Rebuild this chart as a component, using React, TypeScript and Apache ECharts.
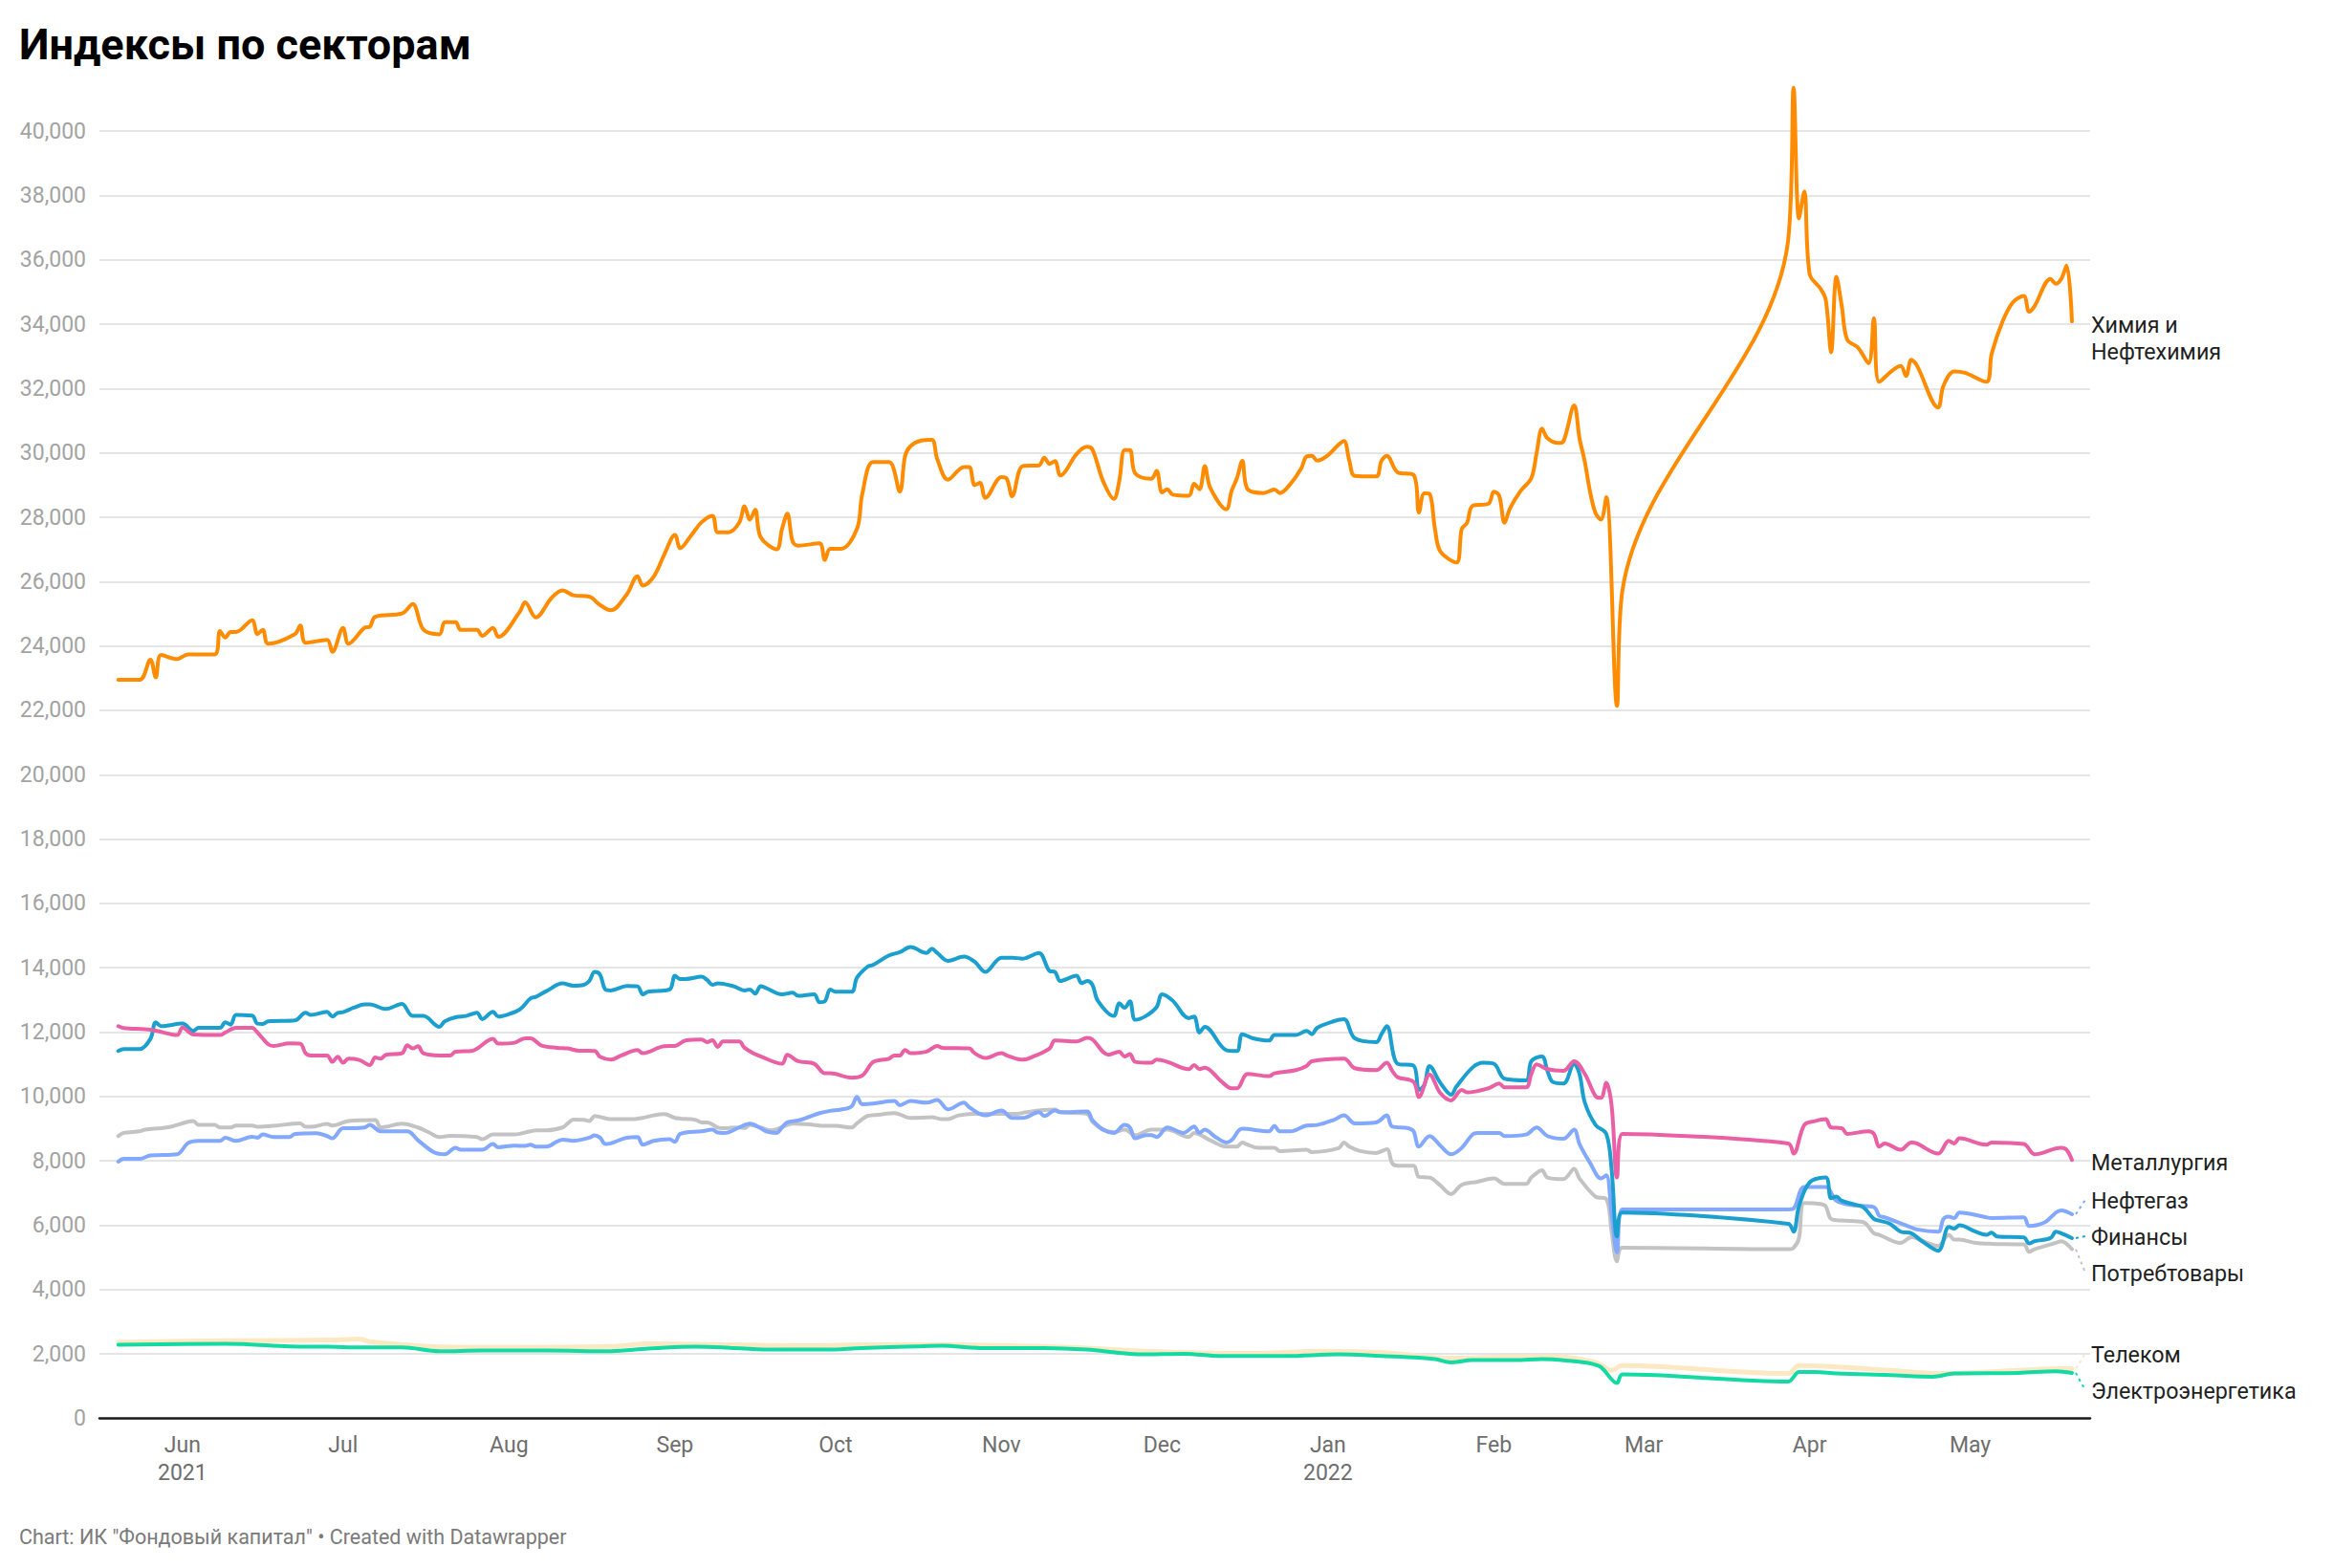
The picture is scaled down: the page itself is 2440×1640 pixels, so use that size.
import React, { useEffect, useRef } from "react";
import * as echarts from "echarts";

// x values are day offsets counted from 1 June 2021 (day 0); y values are index points
const DAY_MS = 86400000;

const chem: [number, number][] = [
  [-12, 22950], [-8, 22950], [-6, 23575], [-5, 23030], [-4, 23720], [-1, 23595], [1, 23740], [6, 23740],
  [7, 24465], [8, 24265], [9, 24435], [10, 24435], [13, 24800], [14, 24370], [15, 24505], [16, 24070],
  [21, 24370], [22, 24635], [23, 24100], [27, 24190], [28, 23820], [30, 24565], [31, 24070], [34, 24565],
  [35, 24600], [36, 24910], [41, 25010], [43, 25305], [45, 24515], [48, 24365], [49, 24740], [51, 24740],
  [52, 24500], [55, 24500], [56, 24315], [58, 24565], [59, 24285], [63, 25060], [64, 25355], [66, 24890],
  [69, 25505], [71, 25730], [73, 25575], [76, 25535], [78, 25275], [80, 25110], [83, 25605], [85, 26170],
  [86, 25880], [88, 26150], [90, 26840], [92, 27455], [93, 27040], [95, 27430], [97, 27850], [99, 28050],
  [100, 27535], [102, 27535], [104, 27830], [105, 28345], [106, 27930], [107, 28230], [108, 27385], [111, 27010],
  [112, 27635], [113, 28110], [114, 27240], [115, 27120], [119, 27190], [120, 26675], [121, 27020], [123, 27020],
  [126, 27635], [127, 28725], [129, 29715], [132, 29715], [134, 28800], [135, 29910], [136, 30210], [138, 30385],
  [140, 30410], [141, 29815], [143, 29170], [146, 29565], [147, 29565], [148, 29000], [149, 29070], [150, 28605],
  [153, 29250], [154, 29200], [155, 28655], [157, 29595], [160, 29615], [161, 29850], [162, 29660], [163, 29750],
  [164, 29300], [165, 29440], [167, 29960], [169, 30190], [170, 30110], [172, 29120], [174, 28575], [175, 29120],
  [176, 30090], [177, 30090], [178, 29365], [181, 29200], [182, 29440], [183, 28775], [184, 28870], [185, 28705],
  [188, 28670], [189, 29040], [190, 28870], [191, 29595], [192, 28920], [195, 28250], [196, 28820], [197, 29220],
  [198, 29755], [199, 28870], [202, 28755], [204, 28865], [205, 28755], [207, 29040], [209, 29515], [210, 29890],
  [211, 29910], [212, 29760], [214, 29930], [216, 30260], [217, 30375], [218, 29760], [219, 29290], [223, 29270],
  [224, 29760], [225, 29910], [227, 29400], [230, 29320], [231, 28150], [232, 28745], [233, 28725], [234, 27635],
  [235, 26940], [238, 26595], [239, 27635], [240, 27830], [241, 28355], [244, 28425], [245, 28800], [246, 28670],
  [247, 27830], [248, 28275], [250, 28820], [252, 29220], [253, 30010], [254, 30755], [255, 30460], [257, 30310],
  [258, 30360], [260, 31475], [261, 30460], [262, 29715], [263, 28770], [264, 28130], [265, 27930], [266, 28625],
  [268, 22140], [269, 25705], [300, 36645], [301, 41350], [302, 37290], [303, 38130], [304, 35555], [306, 35110],
  [307, 34765], [308, 33130], [309, 35475], [310, 34565], [311, 33525], [313, 33280], [315, 32785], [316, 34190],
  [317, 32210], [321, 32705], [322, 32390], [323, 32900], [324, 32730], [328, 31415], [329, 32090], [331, 32535],
  [333, 32490], [337, 32210], [338, 33080], [340, 34070], [342, 34685], [344, 34880], [345, 34390], [346, 34560],
  [349, 35410], [350, 35260], [351, 35410], [352, 35825], [353, 34090],
];

const metal: [number, number][] = [
  [-12, 12186], [-11, 12127], [-7, 12087], [-5, 12047], [-1, 11909], [0, 12146], [2, 11929], [7, 11909],
  [8, 11988], [10, 12136], [13, 12136], [14, 11988], [16, 11621], [17, 11572], [20, 11651], [22, 11641],
  [23, 11344], [24, 11275], [27, 11275], [28, 11077], [29, 11235], [30, 11047], [31, 11176], [33, 11136],
  [35, 10978], [36, 11215], [37, 11176], [38, 11295], [41, 11344], [42, 11592], [43, 11493], [44, 11562],
  [45, 11344], [48, 11275], [50, 11275], [51, 11394], [54, 11414], [58, 11790], [59, 11641], [62, 11671],
  [64, 11810], [65, 11810], [67, 11592], [70, 11513], [72, 11493], [74, 11424], [77, 11414], [78, 11235],
  [80, 11146], [82, 11275], [85, 11443], [86, 11344], [90, 11562], [92, 11572], [94, 11740], [97, 11770],
  [98, 11691], [99, 11750], [100, 11542], [101, 11710], [104, 11715], [105, 11513], [107, 11315], [108, 11245],
  [112, 11017], [113, 11295], [115, 11097], [118, 11017], [120, 10720], [121, 10720], [125, 10582], [127, 10651],
  [129, 11067], [131, 11146], [132, 11176], [133, 11275], [134, 11275], [135, 11443], [136, 11344], [139, 11394],
  [141, 11572], [142, 11513], [147, 11493], [148, 11344], [150, 11196], [153, 11344], [154, 11275], [157, 11146],
  [159, 11245], [162, 11493], [163, 11740], [167, 11711], [169, 11820], [170, 11770], [173, 11295], [175, 11394],
  [176, 11245], [177, 11315], [178, 11077], [181, 11047], [182, 11146], [184, 11077], [188, 10849], [189, 10978],
  [190, 10849], [191, 10898], [194, 10483], [196, 10255], [197, 10255], [199, 10701], [203, 10631], [204, 10720],
  [208, 10819], [210, 10948], [211, 11097], [217, 11176], [219, 10879], [223, 10819], [225, 11047], [226, 10800],
  [227, 10601], [230, 10453], [231, 9987], [233, 10681], [235, 10106], [237, 9879], [239, 10205], [240, 10126],
  [244, 10255], [246, 10403], [247, 10285], [251, 10285], [252, 10701], [253, 10998], [255, 10849], [258, 10800],
  [260, 11097], [262, 10701], [264, 10007], [265, 9958], [266, 10423], [267, 9710], [268, 7482], [269, 8839],
  [300, 8542], [301, 8225], [303, 9116], [305, 9235], [307, 9294], [308, 9037], [310, 9017], [311, 8839],
  [315, 8918], [316, 8839], [317, 8443], [318, 8542], [321, 8344], [323, 8572], [324, 8542], [328, 8225],
  [330, 8622], [331, 8542], [332, 8700], [337, 8502], [338, 8572], [344, 8522], [346, 8205], [347, 8225],
  [351, 8403], [352, 8344], [353, 8027],
];

const neft: [number, number][] = [
  [-12, 7977], [-11, 8066], [-8, 8066], [-6, 8165], [-1, 8205], [1, 8552], [3, 8621], [7, 8621],
  [8, 8720], [10, 8621], [13, 8750], [14, 8720], [15, 8819], [17, 8740], [20, 8740], [21, 8839],
  [25, 8859], [27, 8770], [28, 8700], [30, 9017], [32, 9017], [34, 9037], [35, 9116], [37, 8918],
  [42, 8918], [44, 8641], [47, 8264], [49, 8205], [51, 8403], [52, 8344], [56, 8344], [58, 8522],
  [59, 8423], [62, 8473], [64, 8463], [65, 8502], [66, 8443], [68, 8443], [70, 8601], [71, 8661],
  [73, 8621], [76, 8720], [77, 8790], [78, 8720], [79, 8522], [80, 8542], [83, 8720], [85, 8740],
  [86, 8502], [88, 8621], [91, 8671], [92, 8592], [93, 8839], [97, 8918], [99, 8968], [100, 8880],
  [101, 8869], [102, 8888], [104, 9037], [106, 9156], [108, 9017], [109, 8918], [111, 8869], [112, 9037],
  [113, 9196], [115, 9255], [117, 9364], [119, 9483], [121, 9553], [123, 9592], [125, 9691], [126, 9988],
  [127, 9760], [129, 9780], [133, 9859], [134, 9730], [136, 9859], [139, 9809], [141, 9889], [143, 9600],
  [146, 9809], [147, 9661], [150, 9413], [153, 9562], [155, 9334], [157, 9334], [160, 9512], [161, 9394],
  [163, 9562], [164, 9512], [169, 9532], [170, 9265], [172, 8968], [174, 8869], [176, 9116], [177, 9037],
  [178, 8700], [180, 8799], [181, 8799], [182, 8740], [184, 9037], [187, 8869], [189, 9067], [190, 8869],
  [191, 8968], [193, 8740], [195, 8572], [196, 8641], [198, 8997], [203, 8918], [204, 9087], [205, 8918],
  [207, 8918], [210, 9097], [212, 9116], [215, 9265], [217, 9413], [219, 9166], [223, 9196], [225, 9413],
  [226, 9067], [229, 9017], [230, 8918], [231, 8443], [233, 8770], [235, 8473], [237, 8205], [239, 8403],
  [241, 8819], [242, 8869], [246, 8869], [247, 8770], [251, 8819], [253, 9037], [255, 8770], [258, 8690],
  [260, 8968], [261, 8522], [263, 7928], [265, 7452], [266, 7551], [267, 6343], [268, 5155], [269, 6492],
  [300, 6492], [301, 6520], [303, 7185], [307, 7185], [309, 6759], [312, 6620], [316, 6561], [317, 6294],
  [318, 6244], [322, 5997], [324, 5868], [328, 5799], [329, 6195], [330, 6264], [331, 6224], [332, 6393],
  [337, 6244], [338, 6224], [344, 6244], [345, 5977], [348, 6096], [350, 6393], [351, 6462], [353, 6343],
];

const fin: [number, number][] = [
  [-12, 11414], [-11, 11473], [-8, 11473], [-6, 11790], [-5, 12305], [-4, 12186], [0, 12265], [2, 12037],
  [3, 12136], [7, 12136], [8, 12305], [9, 12235], [10, 12533], [13, 12513], [14, 12265], [15, 12255],
  [16, 12335], [21, 12364], [23, 12602], [24, 12533], [27, 12632], [28, 12483], [29, 12602], [30, 12622],
  [32, 12760], [34, 12860], [35, 12860], [38, 12720], [40, 12830], [41, 12879], [43, 12503], [45, 12503],
  [48, 12166], [49, 12335], [51, 12463], [53, 12503], [55, 12602], [56, 12404], [58, 12632], [59, 12483],
  [61, 12562], [63, 12701], [65, 13047], [66, 13097], [68, 13275], [71, 13513], [73, 13444], [75, 13473],
  [76, 13592], [77, 13870], [78, 13790], [79, 13325], [80, 13295], [83, 13434], [85, 13424], [86, 13176],
  [87, 13255], [91, 13325], [92, 13751], [93, 13652], [94, 13652], [97, 13721], [98, 13622], [99, 13473],
  [100, 13513], [103, 13424], [105, 13295], [106, 13325], [107, 13196], [108, 13424], [109, 13374], [112, 13176],
  [114, 13226], [115, 13127], [118, 13176], [119, 12929], [120, 12958], [121, 13325], [122, 13255], [125, 13255],
  [126, 13691], [128, 14038], [129, 14087], [132, 14384], [134, 14483], [136, 14642], [139, 14463], [140, 14592],
  [141, 14463], [143, 14216], [146, 14345], [148, 14186], [150, 13870], [153, 14315], [155, 14315], [157, 14285],
  [160, 14463], [162, 13899], [163, 13870], [164, 13592], [167, 13751], [168, 13523], [169, 13592], [170, 13473],
  [171, 12978], [174, 12503], [175, 12899], [176, 12760], [177, 12958], [178, 12384], [180, 12503], [182, 12780],
  [183, 13176], [185, 12978], [188, 12434], [189, 12483], [190, 11988], [191, 12166], [195, 11443], [197, 11414],
  [198, 11938], [200, 11810], [203, 11740], [204, 11909], [208, 11909], [210, 12037], [211, 11938], [212, 12136],
  [215, 12335], [217, 12404], [219, 11810], [223, 11691], [224, 11938], [225, 12186], [227, 11017], [230, 10958],
  [231, 10205], [232, 10354], [233, 10948], [235, 10423], [237, 10057], [238, 10305], [241, 10898], [243, 11047],
  [245, 11017], [247, 10552], [251, 10502], [252, 11097], [254, 11245], [255, 10800], [256, 10453], [258, 10403],
  [260, 11017], [261, 10701], [262, 9810], [264, 9116], [266, 8839], [267, 7730], [268, 5650], [269, 6393],
  [300, 6046], [301, 5799], [302, 6590], [304, 7333], [307, 7482], [308, 6838], [309, 6888], [310, 6759],
  [312, 6660], [314, 6561], [316, 6195], [317, 6145], [319, 6046], [321, 5799], [323, 5749], [325, 5501],
  [328, 5205], [330, 5947], [331, 5897], [332, 5997], [335, 5799], [337, 5700], [338, 5770], [339, 5650],
  [344, 5620], [345, 5432], [346, 5501], [349, 5600], [350, 5799], [351, 5749], [353, 5600],
];

const potreb: [number, number][] = [
  [-12, 8769], [-11, 8869], [-8, 8918], [-7, 8968], [-4, 9017], [-2, 9067], [1, 9215], [2, 9235],
  [3, 9116], [6, 9116], [7, 9037], [9, 9037], [10, 9097], [13, 9097], [14, 9057], [17, 9087],
  [22, 9166], [23, 9057], [24, 9057], [27, 9146], [28, 9097], [31, 9235], [36, 9265], [37, 9037],
  [38, 9057], [41, 9156], [44, 9037], [46, 8888], [48, 8740], [50, 8779], [55, 8740], [56, 8671],
  [58, 8819], [62, 8819], [65, 8918], [66, 8948], [68, 8948], [71, 9037], [72, 9166], [73, 9285],
  [75, 9275], [76, 9235], [77, 9394], [78, 9364], [80, 9295], [84, 9295], [86, 9334], [88, 9413],
  [90, 9453], [92, 9334], [93, 9314], [95, 9295], [96, 9265], [97, 9196], [98, 9196], [100, 9037],
  [101, 9017], [104, 9037], [105, 9017], [106, 9116], [108, 9037], [110, 8948], [113, 9116], [114, 9156],
  [117, 9136], [120, 9087], [122, 9087], [125, 9037], [126, 9166], [128, 9394], [130, 9433], [133, 9483],
  [134, 9443], [136, 9334], [140, 9354], [142, 9295], [143, 9295], [145, 9413], [148, 9463], [152, 9463],
  [156, 9463], [157, 9493], [160, 9562], [163, 9592], [164, 9512], [169, 9463], [170, 9215], [172, 8968],
  [174, 8888], [176, 8968], [178, 8799], [181, 8968], [184, 8968], [188, 8740], [189, 8869], [192, 8641],
  [195, 8443], [197, 8443], [198, 8572], [199, 8502], [201, 8403], [204, 8403], [205, 8304], [210, 8344],
  [211, 8274], [216, 8393], [217, 8572], [218, 8443], [220, 8304], [223, 8245], [225, 8360], [226, 7928],
  [227, 7849], [230, 7849], [231, 7502], [233, 7482], [235, 7234], [237, 6967], [239, 7254], [242, 7353],
  [245, 7452], [247, 7284], [251, 7284], [252, 7482], [254, 7710], [255, 7482], [258, 7433], [260, 7750],
  [261, 7452], [264, 6888], [266, 6818], [267, 5799], [268, 4877], [269, 5304], [300, 5254], [301, 5300],
  [302, 5600], [303, 6690], [306, 6660], [307, 6591], [308, 6195], [310, 6145], [314, 6096], [316, 5749],
  [317, 5700], [321, 5452], [323, 5630], [326, 5452], [328, 5353], [330, 5700], [331, 5551], [332, 5551],
  [335, 5452], [338, 5422], [344, 5402], [345, 5175], [346, 5254], [350, 5452], [351, 5501], [353, 5254],
];

const telecom: [number, number][] = [
  [-12, 2362], [8, 2411], [29, 2431], [33, 2461], [35, 2382], [46, 2233], [56, 2203], [80, 2233],
  [87, 2312], [103, 2283], [118, 2253], [127, 2283], [142, 2283], [166, 2203], [180, 2085], [199, 2015],
  [213, 2085], [225, 2035], [237, 1867], [247, 1906], [257, 1906], [264, 1738], [267, 1490], [269, 1639],
  [300, 1391], [302, 1639], [319, 1490], [328, 1391], [343, 1490], [351, 1540], [353, 1540],
];

const electro: [number, number][] = [
  [-12, 2283], [8, 2312], [12, 2302], [20, 2233], [27, 2223], [34, 2203], [41, 2203], [48, 2085],
  [56, 2104], [68, 2104], [80, 2085], [87, 2164], [96, 2223], [103, 2184], [111, 2134], [120, 2134],
  [127, 2184], [137, 2233], [142, 2253], [149, 2184], [161, 2184], [169, 2134], [175, 2035], [179, 1986],
  [187, 2005], [194, 1936], [206, 1936], [216, 1986], [224, 1936], [231, 1887], [234, 1837], [237, 1738],
  [241, 1807], [249, 1807], [254, 1837], [259, 1787], [263, 1708], [265, 1589], [268, 1094], [269, 1362],
  [300, 1144], [302, 1441], [305, 1441], [309, 1391], [319, 1342], [327, 1292], [331, 1391], [343, 1411],
  [350, 1461], [353, 1411],
];

const monthNames = ["Jan", "Feb", "Mar", "Apr", "May", "Jun", "Jul", "Aug", "Sep", "Oct", "Nov", "Dec"];
const yearLabelMonths = ["2021-5", "2022-0"];

const lines = [
  { name: "Телеком", data: telecom, color: "#fde8c4", width: 5 },
  { name: "Электроэнергетика", data: electro, color: "#14d9a2", width: 4 },
  { name: "Потребтовары", data: potreb, color: "#c3c3c3", width: 4 },
  { name: "Нефтегаз", data: neft, color: "#82a8ff", width: 4 },
  { name: "Финансы", data: fin, color: "#1b9fcf", width: 4 },
  { name: "Металлургия", data: metal, color: "#ea60a4", width: 4 },
  { name: "Химия и Нефтехимия", data: chem, color: "#ff8c00", width: 4 },
];

const labelLayout: Record<string, { text: string; y: number; connector: boolean }> = {
  "Химия и Нефтехимия": { text: "Химия и\nНефтехимия", y: 354, connector: false },
  "Металлургия": { text: "Металлургия", y: 1216, connector: false },
  "Нефтегаз": { text: "Нефтегаз", y: 1256, connector: true },
  "Финансы": { text: "Финансы", y: 1294, connector: true },
  "Потребтовары": { text: "Потребтовары", y: 1332, connector: true },
  "Телеком": { text: "Телеком", y: 1417, connector: true },
  "Электроэнергетика": { text: "Электроэнергетика", y: 1455, connector: true },
};

const FONT = "Roboto, 'Noto Sans', Arial, sans-serif";

export default function App() {
  const ref = useRef<HTMLDivElement>(null);

  useEffect(() => {
    if (!ref.current) return;
    const chart = echarts.init(ref.current, null, { renderer: "svg" });
    const t0 = new Date(2021, 5, 1).getTime();
    const toTime = (d: number) => t0 + d * DAY_MS;

    const xFormatter = (value: number) => {
      const dt = new Date(value);
      if (dt.getDate() !== 1 || dt.getHours() !== 0) return "";
      const m = dt.getMonth();
      const key = dt.getFullYear() + "-" + m;
      return yearLabelMonths.includes(key) ? monthNames[m] + "\n" + dt.getFullYear() : monthNames[m];
    };

    chart.setOption({
      animation: false,
      backgroundColor: "#ffffff",
      grid: { left: 104, right: 254, top: 137.2, bottom: 156.6, containLabel: false },
      xAxis: {
        type: "time",
        min: toTime(-15.52),
        max: toTime(356.4),
        splitNumber: 12,
        minInterval: 28 * DAY_MS,
        maxInterval: 31 * DAY_MS,
        axisLine: { show: true, lineStyle: { color: "#1a1a1a", width: 2.5 } },
        axisTick: { show: false },
        splitLine: { show: false },
        axisLabel: {
          formatter: xFormatter,
          color: "#6e6e6e",
          fontSize: 23,
          fontFamily: FONT,
          lineHeight: 29,
          margin: 14,
          hideOverlap: false,
        },
      },
      yAxis: {
        type: "value",
        min: 0,
        max: 40000,
        interval: 2000,
        axisLine: { show: false },
        axisTick: { show: false },
        splitLine: { lineStyle: { color: "#e5e5e5", width: 2 } },
        axisLabel: {
          formatter: (v: number) => v.toLocaleString("en-US"),
          color: "#a3a3a3",
          fontSize: 23,
          fontFamily: FONT,
          margin: 14,
        },
      },
      series: lines.map((l) => ({
        type: "line",
        name: l.name,
        data: l.data.map(([d, v]) => [toTime(d), v]),
        showSymbol: false,
        symbol: "none",
        smooth: 0.35,
        clip: false,
        silent: true,
        lineStyle: { color: l.color, width: l.width, cap: "round", join: "round" },
      })),
    });

    const graphics: any[] = [
      {
        type: "text",
        x: 20,
        y: 46,
        style: {
          text: "Индексы по секторам",
          fill: "#000000",
          font: `bold 45px ${FONT}`,
          align: "left",
          verticalAlign: "middle",
          textAlign: "left",
          textVerticalAlign: "middle",
        },
      },
      {
        type: "text",
        x: 20,
        y: 1607,
        style: {
          text: 'Chart: ИК "Фондовый капитал" • Created with Datawrapper',
          fill: "#7a7a7a",
          font: `21.5px ${FONT}`,
          align: "left",
          verticalAlign: "middle",
          textAlign: "left",
          textVerticalAlign: "middle",
        },
      },
    ];

    lines.forEach((l) => {
      const lay = labelLayout[l.name];
      graphics.push({
        type: "text",
        x: 2187,
        y: lay.y,
        style: {
          text: lay.text,
          fill: "#1f1f1f",
          font: `23.3px ${FONT}`,
          lineHeight: 28,
          align: "left",
          verticalAlign: "middle",
          textAlign: "left",
          textVerticalAlign: "middle",
        },
      });
      if (lay.connector) {
        const last = l.data[l.data.length - 1];
        const p = chart.convertToPixel({ gridIndex: 0 }, [toTime(last[0]), last[1]]) as number[];
        graphics.push({
          type: "line",
          shape: { x1: p[0] + 4, y1: p[1], x2: 2181, y2: lay.y - 1 },
          style: { stroke: l.color, lineWidth: 2, lineDash: [3, 4] },
          silent: true,
        });
      }
    });

    chart.setOption({ graphic: graphics });

    return () => chart.dispose();
  }, []);

  return (
    <div
      ref={ref}
      style={{ position: "absolute", left: 0, top: 0, width: 2440, height: 1640, background: "#fff" }}
    />
  );
}
